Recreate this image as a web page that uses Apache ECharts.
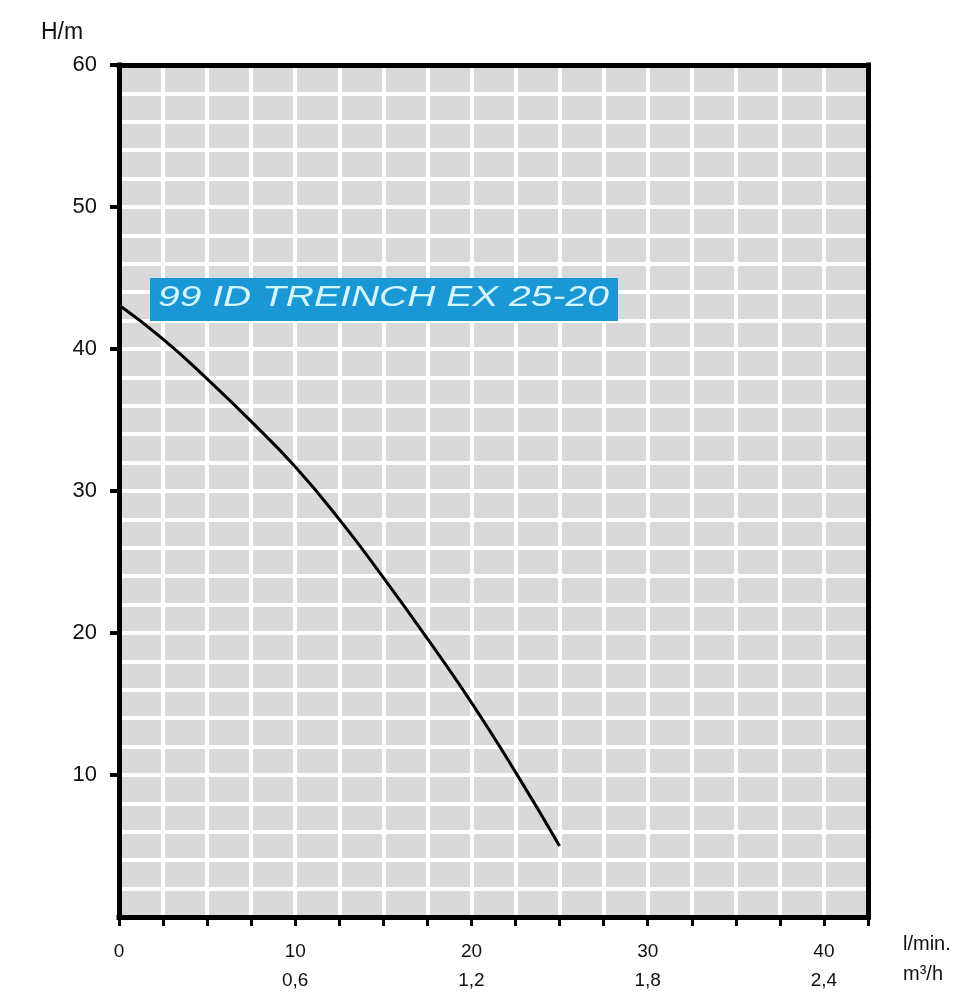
<!DOCTYPE html>
<html>
<head>
<meta charset="utf-8">
<script src="https://cdn.jsdelivr.net/npm/echarts@6/dist/echarts.min.js"></script>
<style>
html,body{margin:0;padding:0;background:#fff;}
#chart{width:972px;height:1000px;}
</style>
</head>
<body>
<div id="chart"></div>
<script>
// Flow (l/min) and head (m)
const flowLpm = [0, 2.5, 5, 7.5, 10, 12.5, 15, 17.5, 20, 22.5, 25];
const headM   = [43.1, 40.7, 37.9, 34.9, 31.7, 28.0, 23.9, 19.6, 15.1, 10.2, 5.0];

// Axis tick labels
const xLabelValues = [0, 10, 20, 30, 40];
const xLabelsLpm = ['0', '10', '20', '30', '40'];
const xLabelsM3h = ['', '0,6', '1,2', '1,8', '2,4'];
const yLabelValues = [10, 20, 30, 40, 50, 60];

const seriesName = '99 ID TREINCH EX 25-20';
const yUnit = 'H/m';
const xUnit1 = 'l/min.';
const xUnit2 = 'm³/h';

const chart = echarts.init(document.getElementById('chart'), null, {renderer: 'canvas'});
const FONT = 'Liberation Sans, Arial, sans-serif';
const thick = {color: '#000', width: 5, cap: 'square'};

chart.setOption({
  animation: false,
  backgroundColor: '#fff',
  grid: {
    left: 119, right: 104, top: 65, bottom: 83,
    show: true, backgroundColor: '#d9d9d9', borderWidth: 0
  },
  xAxis: [{
    type: 'value', min: 0, max: 42.5, interval: 2.5, position: 'bottom',
    axisLine: {show: true, onZero: false, lineStyle: thick},
    axisTick: {show: true, length: 9, lineStyle: {color: '#000', width: 3}},
    splitLine: {show: true, lineStyle: {color: '#fff', width: 4}},
    axisLabel: {
      margin: 20, fontFamily: FONT, fontSize: 19, color: '#111', lineHeight: 29,
      customValues: xLabelValues,
      formatter: function (v) {
        const i = xLabelValues.indexOf(v);
        if (i < 0) return '';
        return xLabelsM3h[i] ? xLabelsLpm[i] + '\n' + xLabelsM3h[i] : xLabelsLpm[i];
      }
    }
  }, {
    type: 'value', min: 0, max: 42.5, position: 'top',
    axisLine: {show: true, onZero: false, lineStyle: thick},
    axisTick: {show: false}, axisLabel: {show: false}, splitLine: {show: false}
  }],
  yAxis: [{
    type: 'value', min: 0, max: 60, interval: 10, position: 'left',
    axisLine: {show: true, onZero: false, lineStyle: thick},
    axisTick: {show: true, length: 9, customValues: yLabelValues, lineStyle: {color: '#000', width: 4}},
    splitLine: {show: false},
    axisLabel: {
      margin: 22, fontFamily: FONT, fontSize: 22, color: '#111',
      customValues: yLabelValues,
      formatter: function (v) { return String(v); }
    }
  }, {
    type: 'value', min: 0, max: 60, interval: 2, position: 'right',
    axisLine: {show: true, onZero: false, lineStyle: thick},
    axisTick: {show: false}, axisLabel: {show: false},
    splitLine: {show: true, lineStyle: {color: '#fff', width: 4}}
  }],
  series: [{
    name: seriesName,
    type: 'line',
    xAxisIndex: 0, yAxisIndex: 0,
    smooth: 0.5,
    symbol: 'none',
    lineStyle: {color: '#000', width: 3},
    data: flowLpm.map((x, i) => [x, headM[i]]),
    z: 5
  }],
  graphic: [
    {type: 'text', left: 41, top: 21, style: {text: yUnit, font: '23px ' + FONT, fill: '#111'}},
    {type: 'text', left: 903, top: 934, style: {text: xUnit1, font: '20px ' + FONT, fill: '#111'}},
    {type: 'text', left: 903, top: 964, style: {text: xUnit2, font: '20px ' + FONT, fill: '#111'}},
    {type: 'rect', shape: {x: 150, y: 278, width: 468, height: 43}, style: {fill: '#1a97d5'}, z: 10},
    {type: 'text', x: 158, y: 283, scaleX: 1.3, z: 11,
      style: {text: seriesName, font: 'italic 30px ' + FONT, fill: '#d6f6ff'}}
  ]
});
</script>
</body>
</html>
